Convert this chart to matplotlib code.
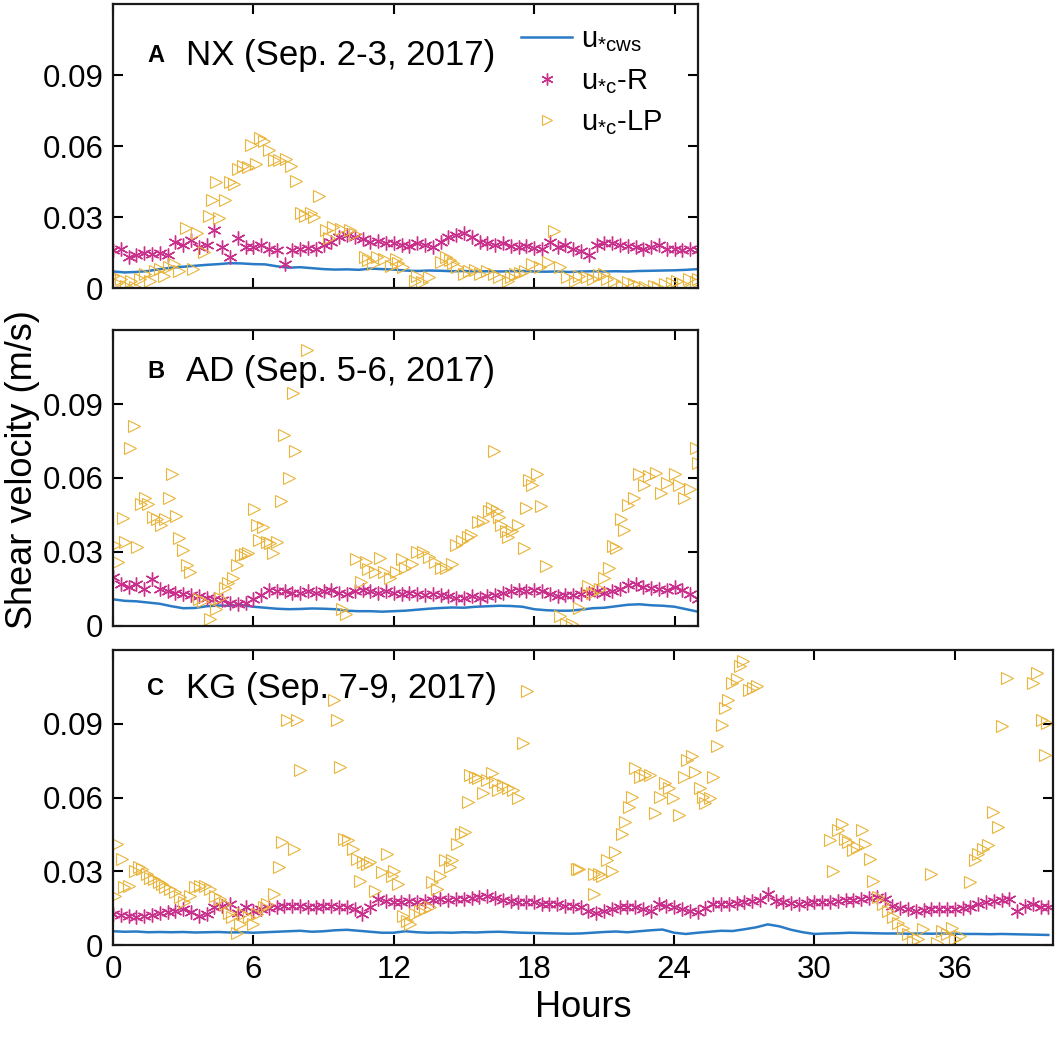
import matplotlib
matplotlib.use("Agg")
import matplotlib.pyplot as plt
import numpy as np

plt.rcParams["font.family"] = ["Liberation Sans", "DejaVu Sans"]
plt.rcParams["mathtext.default"] = "regular"

BLUE = "#2a7bc6"
MAGENTA = "#c8308c"
YELLOW = "#e9b43a"

# u*cws, half-hourly
CWS_A = [0.0070, 0.0066, 0.0068, 0.0072, 0.0080, 0.0086, 0.0090, 0.0094, 0.0098, 0.0101,
         0.0105, 0.0104, 0.0101, 0.0100, 0.0092, 0.0086, 0.0088, 0.0084, 0.0080, 0.0078,
         0.0079, 0.0077, 0.0082, 0.0080, 0.0078, 0.0074, 0.0072, 0.0074, 0.0073, 0.0071,
         0.0072, 0.0070, 0.0071, 0.0070, 0.0071, 0.0072, 0.0070, 0.0069, 0.0070, 0.0068,
         0.0070, 0.0071, 0.0070, 0.0071, 0.0070, 0.0072, 0.0073, 0.0074, 0.0075, 0.0077,
         0.0080]
CWS_B = [0.0108, 0.0102, 0.0100, 0.0095, 0.0090, 0.0080, 0.0072, 0.0073, 0.0080, 0.0083,
         0.0082, 0.0085, 0.0078, 0.0074, 0.0070, 0.0068, 0.0069, 0.0071, 0.0070, 0.0068,
         0.0062, 0.0060, 0.0060, 0.0058, 0.0060, 0.0062, 0.0066, 0.0070, 0.0073, 0.0075,
         0.0074, 0.0078, 0.0080, 0.0082, 0.0081, 0.0078, 0.0068, 0.0064, 0.0062, 0.0062,
         0.0066, 0.0072, 0.0074, 0.0080, 0.0086, 0.0088, 0.0084, 0.0082, 0.0078, 0.0068,
         0.0058]
CWS_C = [0.0056, 0.0054, 0.0055, 0.0052, 0.0053, 0.0052, 0.0053, 0.0051, 0.0052, 0.0053,
         0.0051, 0.0052, 0.0050, 0.0052, 0.0054, 0.0056, 0.0058, 0.0054, 0.0056, 0.0060,
         0.0062, 0.0058, 0.0054, 0.0050, 0.0050, 0.0056, 0.0052, 0.0050, 0.0051, 0.0050,
         0.0052, 0.0051, 0.0053, 0.0054, 0.0052, 0.0050, 0.0049, 0.0048, 0.0047, 0.0046,
         0.0047, 0.0050, 0.0053, 0.0055, 0.0052, 0.0056, 0.0060, 0.0063, 0.0050, 0.0045,
         0.0050, 0.0054, 0.0058, 0.0057, 0.0064, 0.0072, 0.0084, 0.0076, 0.0062, 0.0052,
         0.0045, 0.0047, 0.0048, 0.0050, 0.0049, 0.0048, 0.0047, 0.0047, 0.0046, 0.0047,
         0.0046, 0.0047, 0.0046, 0.0045, 0.0045, 0.0044, 0.0045, 0.0044, 0.0043, 0.0042,
         0.0041]

# u*c-R, every 20 min
R_A = [0.0160, 0.0167, 0.0131, 0.0139, 0.0146, 0.0143, 0.0149, 0.0139, 0.0196, 0.0181,
       0.0203, 0.0174, 0.0181, 0.0246, 0.0174, 0.0131, 0.0210, 0.0174, 0.0174, 0.0181,
       0.0167, 0.0160, 0.0103, 0.0160, 0.0167, 0.0171, 0.0163, 0.0181, 0.0196, 0.0217,
       0.0224, 0.0214, 0.0206, 0.0196, 0.0200, 0.0191, 0.0189, 0.0181, 0.0177, 0.0191,
       0.0181, 0.0174, 0.0196, 0.0214, 0.0224, 0.0231, 0.0214, 0.0196, 0.0189, 0.0181,
       0.0189, 0.0177, 0.0174, 0.0177, 0.0171, 0.0167, 0.0196, 0.0174, 0.0181, 0.0167,
       0.0157, 0.0139, 0.0181, 0.0191, 0.0189, 0.0181, 0.0177, 0.0174, 0.0167, 0.0174,
       0.0181, 0.0167, 0.0163, 0.0160, 0.0167, 0.0160]
R_B = [0.0200, 0.0170, 0.0160, 0.0170, 0.0150, 0.0190, 0.0150, 0.0140, 0.0135, 0.0130,
       0.0125, 0.0120, 0.0115, 0.0110, 0.0105, 0.0095, 0.0090, 0.0095, 0.0110, 0.0125,
       0.0145, 0.0140, 0.0140, 0.0135, 0.0135, 0.0140, 0.0135, 0.0140, 0.0145, 0.0135,
       0.0130, 0.0140, 0.0145, 0.0140, 0.0135, 0.0140, 0.0135, 0.0130, 0.0135, 0.0130,
       0.0125, 0.0130, 0.0125, 0.0120, 0.0115, 0.0115, 0.0120, 0.0115, 0.0120, 0.0125,
       0.0135, 0.0140, 0.0145, 0.0140, 0.0145, 0.0140, 0.0130, 0.0120, 0.0125, 0.0125,
       0.0130, 0.0135, 0.0140, 0.0135, 0.0140, 0.0150, 0.0165, 0.0170, 0.0160, 0.0155,
       0.0150, 0.0145, 0.0160, 0.0145, 0.0130, 0.0110]
R_C = [0.0128, 0.0124, 0.0119, 0.0112, 0.0117, 0.0122, 0.0132, 0.0136, 0.0139, 0.0146,
       0.0136, 0.0119, 0.0125, 0.0153, 0.0160, 0.0166, 0.0132, 0.0153, 0.0139, 0.0146,
       0.0150, 0.0153, 0.0157, 0.0160, 0.0160, 0.0155, 0.0153, 0.0160, 0.0157, 0.0153,
       0.0153, 0.0146, 0.0125, 0.0153, 0.0187, 0.0180, 0.0173, 0.0177, 0.0180, 0.0177,
       0.0180, 0.0182, 0.0187, 0.0185, 0.0187, 0.0187, 0.0190, 0.0194, 0.0200, 0.0190,
       0.0185, 0.0180, 0.0175, 0.0173, 0.0173, 0.0168, 0.0166, 0.0166, 0.0160, 0.0160,
       0.0153, 0.0140, 0.0132, 0.0139, 0.0146, 0.0153, 0.0153, 0.0153, 0.0146, 0.0139,
       0.0166, 0.0160, 0.0153, 0.0146, 0.0139, 0.0135, 0.0150, 0.0166, 0.0166, 0.0166,
       0.0170, 0.0175, 0.0180, 0.0185, 0.0207, 0.0180, 0.0175, 0.0170, 0.0166, 0.0170,
       0.0173, 0.0175, 0.0177, 0.0180, 0.0182, 0.0185, 0.0187, 0.0190, 0.0194, 0.0187,
       0.0160, 0.0150, 0.0146, 0.0139, 0.0142, 0.0146, 0.0146, 0.0148, 0.0146, 0.0150,
       0.0155, 0.0166, 0.0173, 0.0180, 0.0185, 0.0187, 0.0139, 0.0160, 0.0166, 0.0153,
       0.0155]

# u*c-LP, irregular times (hours) and values
LP_A_HOURS = [0.0, 0.15, 0.35, 0.55, 0.75, 0.95, 1.15, 1.35, 1.6, 1.8, 2.0, 2.2, 2.4, 2.6, 2.8,
              3.1, 3.4, 3.6, 3.9, 4.1, 4.25, 4.4, 4.55, 4.8, 5.0, 5.15, 5.35, 5.55, 5.75, 5.9,
              6.1, 6.3, 6.45, 6.65, 6.9, 7.1, 7.4, 7.6, 7.8, 8.05, 8.2, 8.45, 8.6, 8.8, 9.1,
              9.25, 9.4, 9.75, 10.15, 10.35, 10.75, 10.9, 11.1, 11.3, 11.6, 11.9, 12.1, 12.2,
              12.4, 12.9, 13.0, 13.2, 13.5, 14.0, 14.25, 14.4, 14.55, 14.7, 15.0, 15.2, 15.45,
              15.7, 16.0, 16.3, 16.5, 16.9, 17.0, 17.2, 17.4, 17.6, 17.9, 18.25, 18.6, 18.85,
              19.1, 19.4, 19.75, 19.9, 20.25, 20.5, 20.75, 21.0, 21.1, 21.4, 21.75, 22.0,
              22.25, 22.5, 22.75, 23.1, 23.3, 23.6, 23.9, 24.1, 24.35, 24.6, 24.9, 25.0]
LP_A = [0.0050, 0.0020, 0.0040, 0.0010, 0.0030, 0.0005, 0.0040, 0.0060, 0.0030, 0.0070,
        0.0080, 0.0050, 0.0090, 0.0100, 0.0070, 0.0253, 0.0081, 0.0231, 0.0153, 0.0303,
        0.0374, 0.0446, 0.0296, 0.0374, 0.0446, 0.0439, 0.0503, 0.0517, 0.0510, 0.0603,
        0.0524, 0.0632, 0.0620, 0.0582, 0.0539, 0.0539, 0.0546, 0.0517, 0.0453, 0.0317,
        0.0303, 0.0317, 0.0300, 0.0389, 0.0246, 0.0210, 0.0260, 0.0249, 0.0246, 0.0230,
        0.0131, 0.0117, 0.0100, 0.0131, 0.0124, 0.0095, 0.0124, 0.0105, 0.0089, 0.0031,
        0.0050, 0.0024, 0.0046, 0.0110, 0.0131, 0.0117, 0.0105, 0.0089, 0.0060, 0.0074,
        0.0075, 0.0060, 0.0074, 0.0060, 0.0046, 0.0031, 0.0045, 0.0060, 0.0065, 0.0074,
        0.0103, 0.0089, 0.0110, 0.0239, 0.0089, 0.0046, 0.0031, 0.0050, 0.0046, 0.0040,
        0.0053, 0.0060, 0.0040, 0.0031, 0.0010, 0.0025, 0.0017, 0.0010, 0.0003, 0.0010,
        0.0005, 0.0017, 0.0020, 0.0031, 0.0015, 0.0040, 0.0025, 0.0040]
LP_B_HOURS = [0.07, 0.2, 0.43, 0.5, 0.74, 0.89, 1.03, 1.21, 1.36, 1.5, 1.71, 1.86, 2.07, 2.21,
              2.4, 2.54, 2.69, 2.83, 3.0, 3.17, 3.29, 3.69, 3.86, 4.14, 4.4, 4.57, 4.79, 4.93,
              5.14, 5.29, 5.46, 5.64, 5.79, 6.03, 6.14, 6.26, 6.43, 6.57, 6.71, 6.83, 7.0,
              7.17, 7.29, 7.54, 7.69, 7.79, 8.31, 9.8, 9.95, 10.4, 10.6, 10.8, 10.9, 11.2,
              11.4, 11.6, 11.85, 12.1, 12.35, 12.5, 12.76, 13.0, 13.25, 13.5, 13.75, 14.0,
              14.25, 14.5, 14.66, 14.9, 15.16, 15.3, 15.6, 15.8, 16.07, 16.2, 16.3, 16.4,
              16.5, 16.6, 16.8, 16.9, 17.06, 17.3, 17.55, 17.64, 17.8, 17.9, 18.1, 18.3,
              18.5, 19.1, 19.37, 19.6, 19.9, 20.3, 20.45, 20.8, 21.0, 21.2, 21.36, 21.5,
              21.7, 21.85, 22.0, 22.26, 22.5, 22.7, 22.9, 23.2, 23.4, 23.66, 24.0, 24.2,
              24.4, 24.66, 24.9, 25.0]
LP_B = [0.0328, 0.0260, 0.0438, 0.0340, 0.0723, 0.0810, 0.0320, 0.0495, 0.0520, 0.0495,
        0.0442, 0.0435, 0.0408, 0.0435, 0.0518, 0.0616, 0.0446, 0.0355, 0.0308, 0.0248,
        0.0220, 0.0110, 0.0100, 0.0027, 0.0067, 0.0114, 0.0154, 0.0174, 0.0194, 0.0248,
        0.0288, 0.0290, 0.0295, 0.0475, 0.0410, 0.0348, 0.0400, 0.0340, 0.0335, 0.0295,
        0.0340, 0.0505, 0.0773, 0.0600, 0.0944, 0.0710, 0.1120, 0.0068, 0.0047, 0.0270,
        0.0180, 0.0260, 0.0230, 0.0220, 0.0277, 0.0220, 0.0196, 0.0220, 0.0270, 0.0237,
        0.0250, 0.0300, 0.0300, 0.0280, 0.0260, 0.0237, 0.0237, 0.0250, 0.0330, 0.0345,
        0.0359, 0.0370, 0.0420, 0.0426, 0.0467, 0.0480, 0.0710, 0.0467, 0.0440, 0.0410,
        0.0386, 0.0360, 0.0386, 0.0410, 0.0318, 0.0480, 0.0590, 0.0570, 0.0616, 0.0487,
        0.0244, 0.0040, 0.0007, 0.0007, 0.0074, 0.0162, 0.0135, 0.0150, 0.0196, 0.0237,
        0.0325, 0.0318, 0.0433, 0.0390, 0.0490, 0.0520, 0.0616, 0.0570, 0.0610, 0.0620,
        0.0540, 0.0580, 0.0616, 0.0570, 0.0520, 0.0555, 0.0720, 0.0660]
LP_C_HOURS = [0.1, 0.17, 0.38, 0.46, 0.67, 0.95, 1.1, 1.24, 1.45, 1.6, 1.74, 1.95, 2.1, 2.24,
              2.45, 2.66, 2.88, 3.02, 3.3, 3.52, 3.73, 3.95, 4.16, 4.37, 4.59, 4.8, 4.94,
              5.09, 5.3, 5.44, 5.58, 5.8, 6.0, 6.15, 6.44, 6.58, 6.87, 7.08, 7.22, 7.44,
              7.72, 7.86, 8.0, 9.43, 9.57, 9.72, 9.86, 10.07, 10.28, 10.43, 10.57, 10.71,
              10.85, 10.99, 11.21, 11.5, 11.7, 11.92, 12.0, 12.2, 12.42, 12.56, 12.7, 12.92,
              13.13, 13.35, 13.56, 13.63, 13.85, 13.99, 14.2, 14.42, 14.49, 14.7, 14.9,
              15.06, 15.2, 15.27, 15.48, 15.63, 15.84, 15.98, 16.2, 16.34, 16.48, 16.7, 16.9,
              17.12, 17.34, 17.55, 17.69, 19.83, 19.91, 20.55, 20.55, 20.77, 20.9, 21.12,
              21.34, 21.48, 21.76, 21.9, 22.05, 22.19, 22.33, 22.55, 22.76, 22.97, 23.19,
              23.4, 23.62, 23.76, 23.97, 24.19, 24.4, 24.54, 24.76, 24.9, 25.11, 25.25,
              25.32, 25.54, 25.68, 25.82, 26.04, 26.18, 26.32, 26.46, 26.68, 26.82, 26.96,
              27.18, 27.39, 27.53, 30.67, 30.81, 31.02, 31.16, 31.3, 31.45, 31.66, 31.8,
              32.02, 32.16, 32.38, 32.52, 32.73, 32.95, 33.16, 33.37, 33.58, 33.8, 34.01,
              34.23, 34.44, 34.65, 35.0, 35.22, 35.44, 35.65, 35.87, 36.0, 36.22, 36.65,
              36.86, 37.0, 37.22, 37.43, 37.65, 37.86, 38.0, 38.22, 39.36, 39.5, 39.71,
              39.86, 39.93]
LP_C = [0.0200, 0.0409, 0.0351, 0.0235, 0.0241, 0.0303, 0.0316, 0.0310, 0.0290, 0.0273,
        0.0269, 0.0255, 0.0248, 0.0235, 0.0228, 0.0214, 0.0194, 0.0173, 0.0200, 0.0235,
        0.0241, 0.0241, 0.0228, 0.0200, 0.0187, 0.0166, 0.0132, 0.0112, 0.0050, 0.0085,
        0.0125, 0.0112, 0.0085, 0.0125, 0.0153, 0.0166, 0.0207, 0.0316, 0.0419, 0.0917,
        0.0391, 0.0917, 0.0712, 0.0998, 0.0917, 0.0726, 0.0432, 0.0426, 0.0391, 0.0350,
        0.0262, 0.0337, 0.0330, 0.0337, 0.0221, 0.0296, 0.0371, 0.0282, 0.0303, 0.0248,
        0.0119, 0.0098, 0.0085, 0.0125, 0.0139, 0.0146, 0.0153, 0.0255, 0.0228, 0.0282,
        0.0344, 0.0316, 0.0344, 0.0412, 0.0453, 0.0460, 0.0582, 0.0692, 0.0685, 0.0678,
        0.0617, 0.0671, 0.0698, 0.0664, 0.0630, 0.0651, 0.0637, 0.0630, 0.0596, 0.0821,
        0.1033, 0.0310, 0.0310, 0.0289, 0.0207, 0.0289, 0.0282, 0.0344, 0.0303, 0.0378,
        0.0453, 0.0500, 0.0562, 0.0603, 0.0719, 0.0685, 0.0692, 0.0692, 0.0535, 0.0603,
        0.0657, 0.0637, 0.0596, 0.0528, 0.0685, 0.0753, 0.0767, 0.0705, 0.0637, 0.0603,
        0.0576, 0.0596, 0.0685, 0.0808, 0.0896, 0.0964, 0.0998, 0.1067, 0.1080, 0.1135,
        0.1155, 0.1039, 0.1046, 0.1053, 0.0426, 0.0303, 0.0466, 0.0494, 0.0432, 0.0419,
        0.0385, 0.0398, 0.0466, 0.0412, 0.0350, 0.0262, 0.0194, 0.0166, 0.0139, 0.0112,
        0.0091, 0.0071, 0.0044, 0.0016, 0.0023, 0.0064, 0.0289, 0.0010, 0.0057, 0.0044,
        0.0071, 0.0023, 0.0037, 0.0255, 0.0344, 0.0371, 0.0391, 0.0405, 0.0542, 0.0480,
        0.0889, 0.1087, 0.1067, 0.1108, 0.0917, 0.0773, 0.0903]

PANELS = [
    ("A", "NX (Sep. 2-3, 2017)", CWS_A, R_A, LP_A_HOURS, LP_A, 25.0),
    ("B", "AD (Sep. 5-6, 2017)", CWS_B, R_B, LP_B_HOURS, LP_B, 25.0),
    ("C", "KG (Sep. 7-9, 2017)", CWS_C, R_C, LP_C_HOURS, LP_C, 40.2),
]
# axes rectangles in figure fractions (left, bottom, width, height)
RECTS = [
    (0.1063, 0.7241, 0.5503, 0.2720),
    (0.1063, 0.4004, 0.5503, 0.2835),
    (0.1063, 0.0948, 0.8843, 0.2826),
]
# vertical position of the panel title, axes fraction
TITLE_Y = [0.82, 0.86, 0.87]


def draw_panel(ax, letter, title, cws, r_vals, lp_hours, lp_vals, xmax, title_y, show_x):
    cws_hours = np.arange(len(cws)) * 0.5
    r_hours = np.arange(len(r_vals)) / 3.0
    ax.plot(cws_hours, cws, color=BLUE, lw=1.8, label=r"u$_{*cws}$")
    ax.plot(r_hours, r_vals, ls="none", marker=(6, 2, 0), ms=10, mew=1.0,
            color=MAGENTA, label=r"u$_{*c}$-R")
    ax.plot(lp_hours, lp_vals, ls="none", marker=">", ms=8, mew=0.8,
            mfc="none", mec=YELLOW, label=r"u$_{*c}$-LP")
    ax.set_xlim(0, xmax)
    ax.set_ylim(0, 0.12)
    ax.set_yticks([0, 0.03, 0.06, 0.09])
    ax.set_yticklabels(["0", "0.03", "0.06", "0.09"])
    ticks = np.arange(0, xmax, 6)
    ax.set_xticks(ticks)
    if show_x:
        ax.set_xticklabels([str(int(t)) for t in ticks])
    else:
        ax.set_xticklabels([])
    ax.tick_params(direction="in", length=7, width=1.5, top=True, right=True,
                   labelsize=22.5, pad=7)
    for spine in ax.spines.values():
        spine.set_linewidth(1.6)
        spine.set_color("#1a1a1a")
    width_px = ax.get_position().width * 1063
    ax.text(34 / width_px, title_y, letter, transform=ax.transAxes, fontsize=17,
            fontweight="bold", va="center", ha="left")
    ax.text(73 / width_px, title_y, title, transform=ax.transAxes, fontsize=25,
            va="center", ha="left")


def main():
    fig = plt.figure(figsize=(10.63, 10.44), dpi=100)
    axes = []
    for i, (panel, rect) in enumerate(zip(PANELS, RECTS)):
        ax = fig.add_axes(rect)
        draw_panel(ax, *panel, title_y=TITLE_Y[i], show_x=(i == 2))
        axes.append(ax)

    axes[0].legend(loc="upper left", bbox_to_anchor=(0.698, 0.927), frameon=False,
                   fontsize=21, handlelength=1.75, handletextpad=0.3,
                   labelspacing=0.45, borderaxespad=0.0, borderpad=0.0,
                   markerscale=0.85)
    axes[2].set_xlabel("Hours", fontsize=26, labelpad=4)
    fig.text(0.021, 0.55, "Shear velocity (m/s)", rotation=90, fontsize=26,
             ha="center", va="center")
    fig.savefig("out.png", dpi=100)


if __name__ == "__main__":
    main()
